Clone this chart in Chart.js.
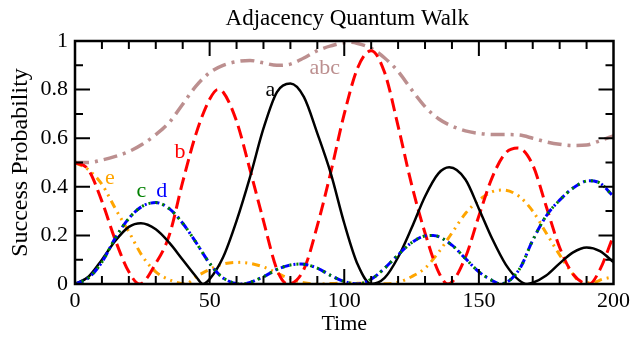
<!DOCTYPE html>
<html>
<head>
<meta charset="utf-8">
<script src="https://cdn.jsdelivr.net/npm/chart.js@4.4.0/dist/chart.umd.min.js"></script>
<style>
  html, body { margin: 0; padding: 0; background: #fff; }
  #wrap { width: 634px; height: 337px; position: relative; }
</style>
</head>
<body>
<div id="wrap"><canvas id="chart"></canvas></div>
<script>
// tick labels
const xTicks = [0, 50, 100, 150, 200];
const yTicks = [0, 0.2, 0.4, 0.6, 0.8, 1];
const yTickLabels = ["0", "0.2", "0.4", "0.6", "0.8", "1"];

// a (black)
const tA = [0, 5, 10, 15, 20, 24.5, 30, 35, 40, 45, 47.5, 50, 55, 60, 65, 70, 75, 80, 85, 90, 95, 100, 105, 110, 115, 120, 125, 130, 135, 139, 145, 150, 155, 160, 165, 168, 170, 175, 180, 185, 190, 195, 200];
const pA = [0, 0.03, 0.10, 0.178, 0.235, 0.25, 0.225, 0.17, 0.10, 0.03, 0, 0.02, 0.11, 0.26, 0.44, 0.64, 0.79, 0.825, 0.77, 0.62, 0.455, 0.25, 0.08, 0, 0.025, 0.11, 0.23, 0.36, 0.455, 0.48, 0.43, 0.31, 0.185, 0.08, 0.015, 0, 0.005, 0.035, 0.085, 0.13, 0.15, 0.135, 0.09];

// b (red)
const tB = [0, 5, 10, 15, 20, 24, 30, 35, 40, 45, 50, 53, 55, 60, 65, 70, 75, 79, 85, 90, 95, 100, 105, 110, 115, 120, 125, 130, 135, 138.5, 145, 150, 155, 160, 164.5, 170, 175, 180, 185, 191, 195, 200];
const pB = [0.5, 0.47, 0.34, 0.18, 0.05, 0, 0.085, 0.2, 0.42, 0.62, 0.76, 0.8, 0.79, 0.67, 0.47, 0.26, 0.06, 0, 0.06, 0.24, 0.46, 0.7, 0.89, 0.96, 0.87, 0.65, 0.41, 0.21, 0.05, 0, 0.11, 0.28, 0.44, 0.54, 0.56, 0.49, 0.32, 0.15, 0.04, 0, 0.06, 0.2];

// c (green) and d (blue)
const tC = [0, 5, 10, 15, 20, 25, 30, 35, 40, 45, 50, 55, 62, 70, 75, 80, 84, 90, 95, 100, 105, 110, 115, 120, 125, 130, 133, 140, 145, 150, 155, 158, 165, 170, 175, 180, 185, 191, 195, 200];
const pC = [0, 0.025, 0.09, 0.19, 0.27, 0.32, 0.335, 0.31, 0.25, 0.17, 0.085, 0.025, 0, 0.03, 0.06, 0.078, 0.082, 0.065, 0.035, 0.01, 0, 0.02, 0.065, 0.12, 0.17, 0.198, 0.2, 0.16, 0.105, 0.05, 0.014, 0, 0.06, 0.18, 0.28, 0.345, 0.395, 0.425, 0.415, 0.36];
const tD = tC;
const pD = [0, 0.025, 0.09, 0.19, 0.27, 0.32, 0.335, 0.31, 0.25, 0.17, 0.085, 0.025, 0, 0.03, 0.06, 0.078, 0.082, 0.065, 0.035, 0.01, 0, 0.02, 0.065, 0.12, 0.17, 0.198, 0.2, 0.16, 0.105, 0.05, 0.014, 0, 0.06, 0.18, 0.28, 0.345, 0.395, 0.425, 0.415, 0.36];

// e (orange)
const tE = [0, 5, 10, 15, 20, 25, 30, 35, 41, 45, 50, 55, 61, 65, 70, 75, 80, 85, 90, 100, 110, 115, 120, 125, 130, 135, 140, 145, 150, 155, 159, 165, 170, 175, 180, 185, 188, 192, 196, 200];
const pE = [0.5, 0.47, 0.41, 0.31, 0.215, 0.115, 0.05, 0.018, 0, 0.03, 0.06, 0.082, 0.089, 0.085, 0.07, 0.045, 0.02, 0.005, 0, 0.004, 0.002, 0.001, 0.007, 0.03, 0.065, 0.13, 0.21, 0.29, 0.345, 0.38, 0.387, 0.36, 0.3, 0.21, 0.12, 0.04, 0.005, 0.005, 0.02, 0.03];

// abc (sum)
const tABC = [0, 5, 10, 15, 20, 25, 30, 35, 40, 45, 50, 55, 60, 65, 70, 75, 80, 85, 90, 95, 102, 105, 110, 115, 120, 125, 130, 135, 140, 145, 150, 155, 160, 165, 170, 175, 180, 185, 190, 195, 200];
const pABC = [0.5, 0.5, 0.51, 0.525, 0.545, 0.575, 0.615, 0.665, 0.74, 0.815, 0.87, 0.9, 0.915, 0.92, 0.91, 0.9, 0.905, 0.93, 0.96, 0.98, 0.995, 0.99, 0.97, 0.93, 0.875, 0.8, 0.73, 0.68, 0.65, 0.63, 0.62, 0.615, 0.615, 0.613, 0.6, 0.585, 0.575, 0.57, 0.572, 0.59, 0.61];

// curve labels
const curveLabels = [
  { text: "a", x: 72.6, y: 0.797, color: "#000000" },
  { text: "b", x: 39, y: 0.544, color: "#ff0000" },
  { text: "c", x: 24.7, y: 0.38, color: "#008000" },
  { text: "d", x: 32.2, y: 0.38, color: "#0000ff" },
  { text: "e", x: 13, y: 0.435, color: "#ffa500" },
  { text: "abc", x: 92.8, y: 0.887, color: "#bc8f8f" },
];

const FONT = "'Liberation Serif', 'DejaVu Serif', serif";

const toPoints = (t, p) => t.map((x, i) => ({ x: x, y: p[i] }));

const line = (label, t, p, color, dash, width) => ({
  label: label,
  data: toPoints(t, p),
  borderColor: color,
  borderWidth: width,
  borderDash: dash,
  borderCapStyle: "butt",
  pointRadius: 0,
  fill: false,
  cubicInterpolationMode: "monotone",
});

const framePlugin = {
  id: "frame",
  afterDatasetsDraw(chart) {
    const { ctx, chartArea: ca, scales } = chart;
    const xs = scales.x, ys = scales.y;
    ctx.save();
    ctx.strokeStyle = "#000";
    ctx.lineWidth = 2.5;
    ctx.strokeRect(ca.left, ca.top, ca.right - ca.left, ca.bottom - ca.top);
    ctx.lineWidth = 2;
    ctx.beginPath();
    for (let v = 10; v < 200; v += 10) {
      const px = xs.getPixelForValue(v);
      const len = v % 50 === 0 ? 15 : 8;
      ctx.moveTo(px, ca.bottom); ctx.lineTo(px, ca.bottom - len);
      ctx.moveTo(px, ca.top); ctx.lineTo(px, ca.top + len);
    }
    for (let i = 1; i < 10; i++) {
      const py = ys.getPixelForValue(i / 10);
      const len = i % 2 === 0 ? 15 : 8;
      ctx.moveTo(ca.left, py); ctx.lineTo(ca.left + len, py);
      ctx.moveTo(ca.right, py); ctx.lineTo(ca.right - len, py);
    }
    ctx.stroke();

    ctx.font = "22px " + FONT;
    ctx.textAlign = "center";
    ctx.textBaseline = "middle";
    curveLabels.forEach(l => {
      ctx.fillStyle = l.color;
      ctx.fillText(l.text, xs.getPixelForValue(l.x), ys.getPixelForValue(l.y));
    });

    ctx.fillStyle = "#000";
    ctx.font = "23px " + FONT;
    ctx.fillText("Adjacency Quantum Walk", (ca.left + ca.right) / 2 + 3, 19);
    ctx.restore();
  },
};

new Chart(document.getElementById("chart"), {
  type: "line",
  data: {
    datasets: [
      line("c", tC, pC, "#008000", [2, 5], 3),
      line("d", tD, pD, "#0000ff", [9, 4, 2, 4], 3),
      line("a", tA, pA, "#000000", [], 2.5),
      line("b", tB, pB, "#ff0000", [13, 6], 3),
      line("e", tE, pE, "#ffa500", [8, 5, 2, 5, 2, 5], 3),
      line("abc", tABC, pABC, "#bc8f8f", [14, 6, 3, 6], 3.5),
    ],
  },
  options: {
    responsive: true,
    maintainAspectRatio: false,
    animation: false,
    layout: { padding: { top: 41, right: 20, bottom: 0, left: 0 } },
    plugins: {
      legend: { display: false },
      tooltip: { enabled: false },
      title: { display: false },
    },
    scales: {
      x: {
        type: "linear",
        min: 0,
        max: 200,
        grid: { display: false, drawTicks: false },
        border: { display: false },
        afterBuildTicks: (scale) => { scale.ticks = xTicks.map(v => ({ value: v })); },
        afterFit: (scale) => { scale.height = 53; },
        ticks: {
          padding: 4,
          color: "#000",
          font: { family: FONT, size: 22 },
          callback: (v) => String(v),
        },
        title: {
          display: true,
          text: "Time",
          color: "#000",
          font: { family: FONT, size: 22 },
          padding: { top: 0, bottom: 0 },
        },
      },
      y: {
        type: "linear",
        min: 0,
        max: 1,
        grid: { display: false, drawTicks: false },
        border: { display: false },
        afterBuildTicks: (scale) => { scale.ticks = yTicks.map(v => ({ value: v })); },
        afterFit: (scale) => { scale.width = 75; },
        ticks: {
          padding: 7,
          color: "#000",
          font: { family: FONT, size: 22 },
          callback: (v, i) => yTickLabels[i],
        },
        title: {
          display: true,
          text: "Success Probability",
          color: "#000",
          font: { family: FONT, size: 24 },
          padding: { top: 6.5, bottom: 0 },
        },
      },
    },
  },
  plugins: [framePlugin],
});
</script>
</body>
</html>
